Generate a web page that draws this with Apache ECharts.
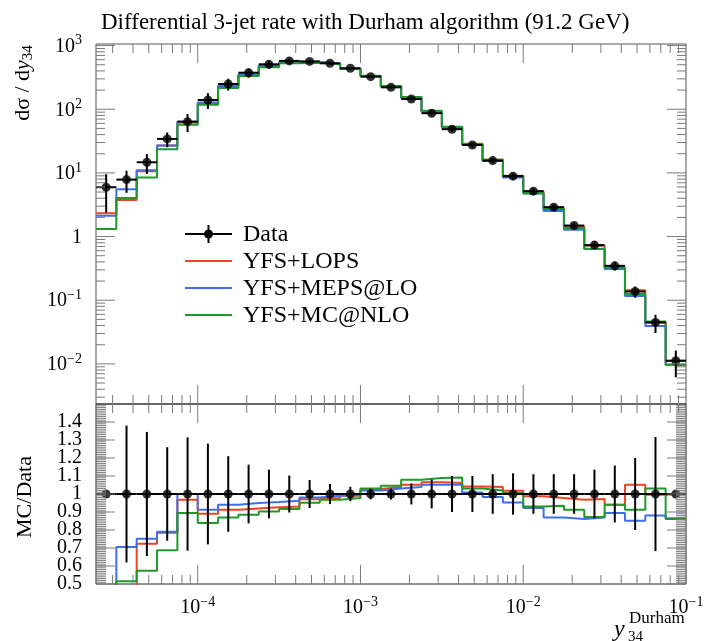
<!DOCTYPE html>
<html>
<head>
<meta charset="utf-8">
<script src="https://cdn.jsdelivr.net/npm/echarts@6/dist/echarts.min.js"></script>
<style>
  html, body { margin: 0; padding: 0; background: #fff; }
  #chart { width: 706px; height: 641px; }
</style>
</head>
<body>
<div id="chart"></div>
<script>
// ---- Binning: log10 of the y34 bin edges (8 bins per decade) ----
const BIN_EDGES_LOG10 = [-4.625, -4.5, -4.375, -4.25, -4.125, -4, -3.875, -3.75, -3.625, -3.5,
  -3.375, -3.25, -3.125, -3, -2.875, -2.75, -2.625, -2.5, -2.375, -2.25,
  -2.125, -2, -1.875, -1.75, -1.625, -1.5, -1.375, -1.25, -1.125, -1];

// ---- Measured dsigma/dy34 and its relative uncertainty per bin ----
const DATA = [5.96, 7.85, 14.7, 34.2, 63.9, 140, 249, 375, 508, 575,
  565, 527, 440, 325, 221, 145, 86.7, 48.6, 27.5, 15.6,
  8.89, 5.17, 2.90, 1.49, 0.735, 0.347, 0.137, 0.0448, 0.0112];
const DATA_REL_ERR = [0.6, 0.38, 0.345, 0.26, 0.315, 0.28, 0.21, 0.163, 0.135, 0.103,
  0.078, 0.056, 0.04, 0.03, 0.03, 0.058, 0.08, 0.1, 0.1, 0.11,
  0.115, 0.11, 0.11, 0.11, 0.135, 0.158, 0.2, 0.317, 0.45];

// ---- MC / Data per bin for each generator setup ----
const RATIO_LOPS = [0.39, 0.48, 0.724, 0.785, 0.968, 0.89, 0.913, 0.92, 0.926, 0.93,
  0.971, 0.978, 0.99, 1.028, 1.039, 1.052, 1.065, 1.061, 1.042, 1.039,
  1.018, 0.987, 0.978, 0.968, 0.972, 0.94, 1.052, 0.996, 1.0];
const RATIO_MEPS = [0.355, 0.706, 0.752, 0.79, 1.0, 0.913, 0.94, 0.95, 0.955, 0.963,
  0.98, 0.99, 0.996, 1.02, 1.03, 1.039, 1.052, 1.052, 1.009, 0.983,
  0.953, 0.922, 0.87, 0.861, 0.87, 0.894, 0.852, 0.881, 0.865];
const RATIO_MCNLO = [0.22, 0.515, 0.574, 0.687, 0.894, 0.839, 0.87, 0.885, 0.903, 0.917,
  0.952, 0.968, 0.978, 1.03, 1.046, 1.079, 1.089, 1.092, 1.03, 1.02,
  1.005, 0.931, 0.935, 0.913, 0.872, 0.94, 0.913, 1.03, 0.861];

const SERIES_NAMES = ['YFS+LOPS', 'YFS+MEPS@LO', 'YFS+MC@NLO'];
const SERIES_COLORS = ['#ee4422', '#3d6ff0', '#1f9a2a'];

// ---- Axis ranges (log10 space for the main panel) ----
const X_RANGE = [-4.625, -1];
const Y_MAIN_RANGE = [-2.63, 3.025];
const RATIO_RANGE = [0.5, 1.5];

// ---- Tick labels ----
const X_MAJOR_DECADES = [-4, -3, -2, -1];
const X_TICK_LABELS = [['10', '\u22124'], ['10', '\u22123'], ['10', '\u22122'], ['10', '\u22121']];
const Y_MAIN_DECADES = [-2, -1, 0, 1, 2, 3];
const Y_MAIN_TICK_LABELS = [['10', '\u22122'], ['10', '\u22121'], ['1', ''], ['10', '1'], ['10', '2'], ['10', '3']];
const RATIO_MAJOR = [0.5, 0.6, 0.7, 0.8, 0.9, 1.0, 1.1, 1.2, 1.3, 1.4];
const RATIO_TICK_LABELS = ['0.5', '0.6', '0.7', '0.8', '0.9', '1', '1.1', '1.2', '1.3', '1.4'];

const FONT = 'Liberation Serif';
const FRAME = '#555';
const TICK = '#7a7a7a';

const N = DATA.length;
const RATIOS = [RATIO_LOPS, RATIO_MEPS, RATIO_MCNLO];

// Step-histogram points: one per lower edge, plus the closing upper edge
function stepData(vals, tf) {
  const out = vals.map((v, i) => [BIN_EDGES_LOG10[i], tf(v)]);
  out.push([BIN_EDGES_LOG10[N], tf(vals[N - 1])]);
  return out;
}

function lineSeries(name, color, data, grid) {
  return {
    name, type: 'line', step: 'end', data,
    xAxisIndex: grid, yAxisIndex: grid,
    showSymbol: false, symbol: 'none', clip: true, z: 2,
    lineStyle: { color, width: 2 }, itemStyle: { color },
    silent: true
  };
}

// Data error bars: horizontal bin-width bar plus vertical uncertainty bar.
// In the ratio panel the outermost bins sit under the edge tick ladder,
// so only their horizontal bar is drawn there.
function makeErrRender(skipEdgeVerticals) {
  return function (params, api) {
    const lo = api.value(0), hi = api.value(1);
    const yl = api.value(2), yh = api.value(3), yc = api.value(4);
    const pL = api.coord([lo, yc]), pR = api.coord([hi, yc]);
    const pT = api.coord([(lo + hi) / 2, yh]), pB = api.coord([(lo + hi) / 2, yl]);
    const children = [
      { type: 'line', shape: { x1: pL[0], y1: pL[1], x2: pR[0], y2: pR[1] }, style: { stroke: '#000', lineWidth: 2 } }
    ];
    const edge = params.dataIndex === 0 || params.dataIndex === N - 1;
    if (!(skipEdgeVerticals && edge)) {
      children.push({ type: 'line', shape: { x1: pT[0], y1: pT[1], x2: pB[0], y2: pB[1] }, style: { stroke: '#000', lineWidth: 2 } });
    }
    return { type: 'group', children };
  };
}

const mainErrData = DATA.map((v, i) => [BIN_EDGES_LOG10[i], BIN_EDGES_LOG10[i + 1],
  Math.log10(v * (1 - DATA_REL_ERR[i])), Math.log10(v * (1 + DATA_REL_ERR[i])), Math.log10(v)]);
const ratioErrData = DATA.map((v, i) => [BIN_EDGES_LOG10[i], BIN_EDGES_LOG10[i + 1],
  v / v - DATA_REL_ERR[i], v / v + DATA_REL_ERR[i], v / v]);
const binCenter = i => (BIN_EDGES_LOG10[i] + BIN_EDGES_LOG10[i + 1]) / 2;

function labelEl(x, y, base, sup, align, size) {
  const text = sup ? '{b|' + base + '}{s|' + sup + '}' : '{b|' + base + '}';
  return {
    type: 'text',
    style: {
      x, y, text, align, verticalAlign: 'middle', fill: '#000',
      rich: {
        b: { fontFamily: FONT, fontSize: size, lineHeight: size + 6, fill: '#000' },
        s: { fontFamily: FONT, fontSize: Math.round(size * 0.68), lineHeight: Math.round(size * 0.68), verticalAlign: 'top', fill: '#000' }
      }
    }
  };
}

function tickLine(x1, y1, x2, y2) {
  return { type: 'line', shape: { x1, y1, x2, y2 }, style: { stroke: TICK, lineWidth: 1 } };
}

function logMinors(range) {
  const out = [];
  for (let n = Math.floor(range[0]); n <= Math.ceil(range[1]); n++) {
    for (let m = 2; m <= 9; m++) {
      const v = n + Math.log10(m);
      if (v > range[0] && v < range[1]) out.push(v);
    }
  }
  return out;
}

// Frame ticks for a panel; yKind = 'log' or 'ratio'
function makeTickRender(yRange, yKind, withXLabels) {
  return function (params, api) {
    const ch = [];
    const yMid = (yRange[0] + yRange[1]) / 2;
    const L = api.coord([X_RANGE[0], yMid])[0];
    const R = api.coord([X_RANGE[1], yMid])[0];
    const T = api.coord([X_RANGE[0], yRange[1]])[1];
    const B = api.coord([X_RANGE[0], yRange[0]])[1];
    const MIN_LEN = 9, MAJ_LEN = 19;
    // x ticks on top and bottom edges
    logMinors(X_RANGE).forEach(v => {
      const x = api.coord([v, yMid])[0];
      ch.push(tickLine(x, T, x, T + MIN_LEN), tickLine(x, B, x, B - MIN_LEN));
    });
    X_MAJOR_DECADES.forEach((v, i) => {
      const x = api.coord([v, yMid])[0];
      if (v < X_RANGE[1]) ch.push(tickLine(x, T, x, T + MAJ_LEN), tickLine(x, B, x, B - MAJ_LEN));
      if (withXLabels) ch.push(labelEl(x, B + 24, X_TICK_LABELS[i][0], X_TICK_LABELS[i][1], 'center', 20));
    });
    // y ticks on left and right edges
    if (yKind === 'log') {
      logMinors(yRange).forEach(v => {
        const y = api.coord([X_RANGE[0], v])[1];
        ch.push(tickLine(L, y, L + MIN_LEN, y), tickLine(R, y, R - MIN_LEN, y));
      });
      Y_MAIN_DECADES.forEach((v, i) => {
        const y = api.coord([X_RANGE[0], v])[1];
        ch.push(tickLine(L, y, L + MAJ_LEN, y), tickLine(R, y, R - MAJ_LEN, y));
        ch.push(labelEl(L - 14, y + 1, Y_MAIN_TICK_LABELS[i][0], Y_MAIN_TICK_LABELS[i][1], 'right', 20));
      });
    } else {
      for (let k = Math.round(yRange[0] * 100) + 1; k < Math.round(yRange[1] * 100); k++) {
        const y = api.coord([X_RANGE[0], k / 100])[1];
        ch.push(tickLine(L, y, L + 10, y), tickLine(R, y, R - 10, y));
      }
      RATIO_MAJOR.forEach((v, i) => {
        const y = api.coord([X_RANGE[0], v])[1];
        ch.push(tickLine(L, y, L + MAJ_LEN, y), tickLine(R, y, R - MAJ_LEN, y));
        ch.push(labelEl(L - 14, y, RATIO_TICK_LABELS[i], '', 'right', 20));
      });
    }
    return { type: 'group', children: ch };
  };
}

const series = [];
// Main panel: MC histograms
RATIOS.forEach((r, s) => {
  series.push(lineSeries(SERIES_NAMES[s], SERIES_COLORS[s],
    stepData(DATA.map((d, i) => d * r[i]), v => Math.log10(v)), 0));
});
// Main panel: data
series.push({
  type: 'custom', xAxisIndex: 0, yAxisIndex: 0, data: mainErrData, renderItem: makeErrRender(false),
  encode: { x: [0, 1], y: [2, 3, 4] }, clip: true, z: 3, silent: true
});
series.push({
  name: 'Data', type: 'scatter', xAxisIndex: 0, yAxisIndex: 0,
  data: DATA.map((v, i) => [binCenter(i), Math.log10(v)]),
  symbol: 'circle', symbolSize: 9, itemStyle: { color: '#000' }, z: 4, silent: true
});
// Ratio panel: MC / Data
RATIOS.forEach((r, s) => {
  series.push(lineSeries(SERIES_NAMES[s], SERIES_COLORS[s], stepData(r, v => v), 1));
});
series.push({
  type: 'custom', xAxisIndex: 1, yAxisIndex: 1, data: ratioErrData, renderItem: makeErrRender(true),
  encode: { x: [0, 1], y: [2, 3, 4] }, clip: true, z: 3, silent: true
});
series.push({
  type: 'scatter', xAxisIndex: 1, yAxisIndex: 1,
  data: DATA.map((v, i) => [binCenter(i), v / v]),
  symbol: 'circle', symbolSize: 9, itemStyle: { color: '#000' }, z: 4, silent: true
});
// Frame ticks and tick labels
series.push({
  type: 'custom', xAxisIndex: 0, yAxisIndex: 0, data: [[X_RANGE[0], Y_MAIN_RANGE[0]]],
  renderItem: makeTickRender(Y_MAIN_RANGE, 'log', false), clip: false, z: 5, silent: true
});
series.push({
  type: 'custom', xAxisIndex: 1, yAxisIndex: 1, data: [[X_RANGE[0], RATIO_RANGE[0]]],
  renderItem: makeTickRender(RATIO_RANGE, 'ratio', true), clip: false, z: 5, silent: true
});

// Legend entries
const LEG_X = 185, LEG_W = 47, LEG_TX = 243, LEG_Y = [234, 261, 288, 315];
const LEG_FONT = '24px "' + FONT + '"';
const legend = [
  { type: 'line', shape: { x1: LEG_X, y1: LEG_Y[0], x2: LEG_X + LEG_W, y2: LEG_Y[0] }, style: { stroke: '#000', lineWidth: 2 } },
  { type: 'line', shape: { x1: LEG_X + LEG_W / 2, y1: LEG_Y[0] - 9, x2: LEG_X + LEG_W / 2, y2: LEG_Y[0] + 9 }, style: { stroke: '#000', lineWidth: 2 } },
  { type: 'circle', shape: { cx: LEG_X + LEG_W / 2, cy: LEG_Y[0], r: 4.5 }, style: { fill: '#000' } },
  { type: 'text', style: { x: LEG_TX, y: LEG_Y[0] + 1, text: 'Data', font: LEG_FONT, fill: '#000', verticalAlign: 'middle' } }
];
SERIES_NAMES.forEach((n, s) => {
  const y = LEG_Y[s + 1];
  legend.push({ type: 'line', shape: { x1: LEG_X, y1: y, x2: LEG_X + LEG_W, y2: y }, style: { stroke: SERIES_COLORS[s], lineWidth: 2 } });
  legend.push({ type: 'text', style: { x: LEG_TX, y: y + 1, text: n, font: LEG_FONT, fill: '#000', verticalAlign: 'middle' } });
});

const chart = echarts.init(document.getElementById('chart'), null, { renderer: 'canvas' });
chart.setOption({
  animation: false,
  backgroundColor: '#fff',
  title: {
    text: 'Differential 3-jet rate with Durham algorithm (91.2 GeV)',
    left: 96, top: 6,
    textStyle: { fontFamily: FONT, fontSize: 23, fontWeight: 'normal', color: '#000' }
  },
  grid: [
    { left: 96, top: 44, width: 590, height: 360, show: true, borderColor: FRAME, borderWidth: 1, backgroundColor: 'transparent' },
    { left: 96, top: 404, width: 590, height: 180, show: true, borderColor: '#222', borderWidth: 1, backgroundColor: 'transparent' }
  ],
  xAxis: [
    { type: 'value', gridIndex: 0, min: X_RANGE[0], max: X_RANGE[1], show: false },
    { type: 'value', gridIndex: 1, min: X_RANGE[0], max: X_RANGE[1], show: false }
  ],
  yAxis: [
    { type: 'value', gridIndex: 0, min: Y_MAIN_RANGE[0], max: Y_MAIN_RANGE[1], show: false },
    { type: 'value', gridIndex: 1, min: RATIO_RANGE[0], max: RATIO_RANGE[1], show: false }
  ],
  graphic: [
    {
      type: 'text', x: 23, y: 83, rotation: Math.PI / 2,
      style: {
        text: '{n|d\u03C3 / d}{i|y}{sub|34}', align: 'center', verticalAlign: 'middle', fill: '#000',
        rich: {
          n: { fontFamily: FONT, fontSize: 22, lineHeight: 26, fill: '#000' },
          i: { fontFamily: FONT, fontSize: 22, fontStyle: 'italic', lineHeight: 26, fill: '#000' },
          sub: { fontFamily: FONT, fontSize: 15, lineHeight: 15, verticalAlign: 'bottom', fill: '#000' }
        }
      }
    },
    {
      type: 'text', x: 25, y: 497, rotation: Math.PI / 2,
      style: { text: 'MC/Data', font: '22px "' + FONT + '"', fill: '#000', align: 'center', verticalAlign: 'middle' }
    },
    { type: 'text', x: 614, y: 630, style: { text: 'y', font: 'italic 24px "' + FONT + '"', fill: '#000', verticalAlign: 'middle' } },
    { type: 'text', x: 629, y: 619, style: { text: 'Durham', font: '17px "' + FONT + '"', fill: '#000', verticalAlign: 'middle' } },
    { type: 'text', x: 628, y: 637, style: { text: '34', font: '15px "' + FONT + '"', fill: '#000', verticalAlign: 'middle' } },
    { type: 'group', children: legend }
  ],
  series
});
</script>
</body>
</html>
